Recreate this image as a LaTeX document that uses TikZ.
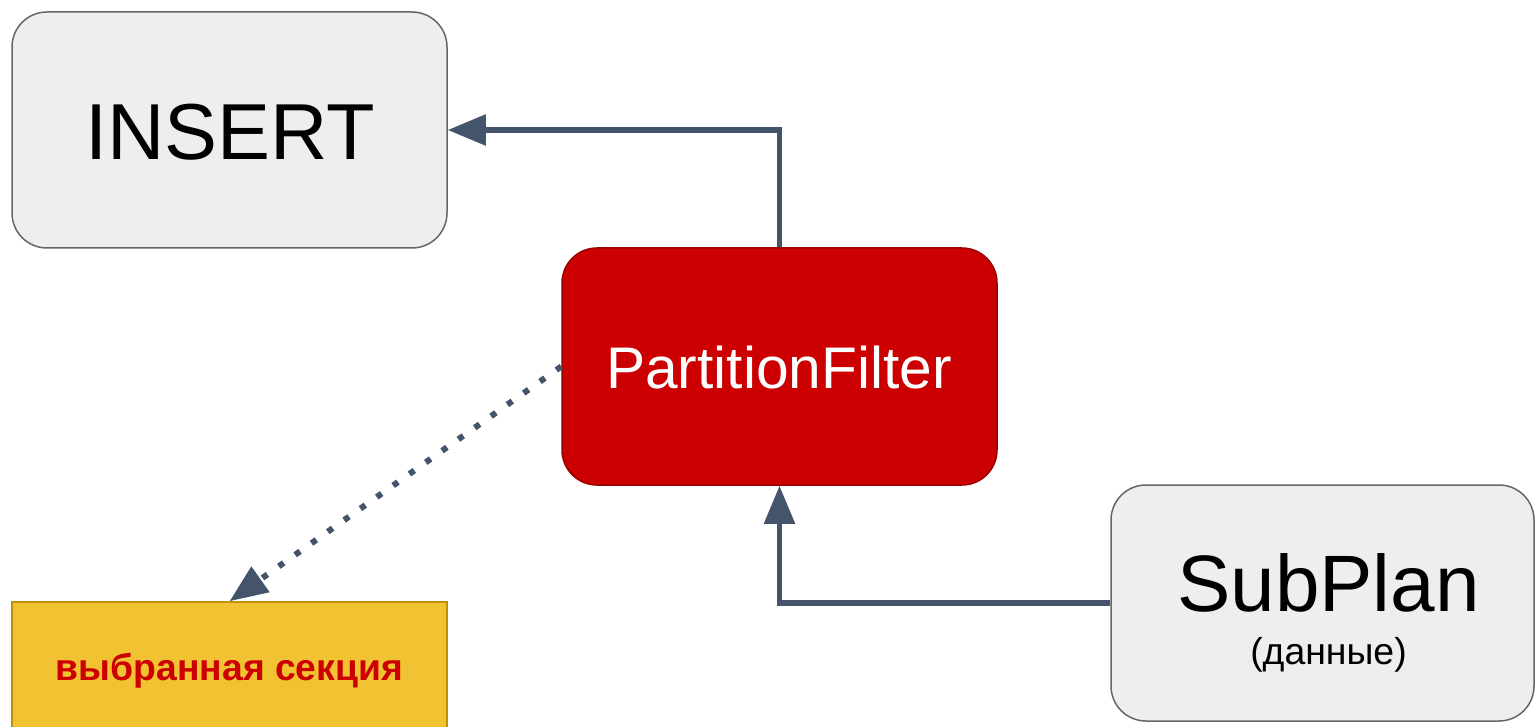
\documentclass[tikz,border=0pt]{standalone}
\usepackage{fontspec}
\setmainfont{Liberation Sans}
\usetikzlibrary{arrows.meta}
\definecolor{boxgray}{HTML}{EEEEEE}
\definecolor{bordergray}{HTML}{666666}
\definecolor{pfred}{HTML}{CC0000}
\definecolor{pfborder}{HTML}{990000}
\definecolor{secyellow}{HTML}{F1C232}
\definecolor{secborder}{HTML}{BF9000}
\definecolor{slate}{HTML}{44546A}
\tikzset{
  graybox/.style={draw=bordergray, line width=1.5pt, fill=boxgray, rounded corners=35pt, minimum width=435pt, minimum height=236pt, inner sep=0pt},
  redbox/.style={draw=pfborder, line width=1.5pt, fill=pfred, rounded corners=35pt, minimum width=435pt, minimum height=237pt, inner sep=0pt},
  yellowbox/.style={draw=secborder, line width=1.5pt, fill=secyellow, minimum width=435pt, minimum height=236pt, inner sep=0pt},
  conn/.style={draw=slate, line width=5.5pt, -{Triangle[length=38pt,width=30pt]}},
  dotconn/.style={draw=slate, line width=6pt, dash pattern=on 6pt off 14pt, -{Triangle[length=38pt,width=30pt]}},
  lbl/.style={anchor=base, inner sep=0pt}
}
\begin{document}
\begin{tikzpicture}[x=1pt,y=-1pt]
\useasboundingbox (0,0) rectangle (1537,727);
\clip (0,0) rectangle (1537,727);
\node[graybox] (ins) at (229.5,130) {};
\node[redbox] (pf) at (779.5,366.5) {};
\node[graybox, minimum width=423pt] (sp) at (1322.5,603) {};
\node[yellowbox] (sec) at (229.5,720) {};
\node[lbl, font=\fontsize{79.4}{80}\selectfont] (inst) at (230,160) {INSERT};
\node[lbl, white, font=\fontsize{58.7}{60}\selectfont] (pft) at (779,388) {PartitionFilter};
\node[lbl, font=\fontsize{80}{82}\selectfont] (spt) at (1328.5,611) {SubPlan};
\node[lbl, font=\fontsize{37.4}{38}\selectfont] (spd) at (1328.5,664) {(данные)};
\node[lbl, pfred, font=\bfseries\fontsize{37.3}{38}\selectfont] (sect) at (229.5,680) {выбранная секция};
\draw[conn] (pf.north) |- (ins.east);
\draw[conn] (sp.west) -| (pf.south);
\draw[dotconn] (pf.west) -- (sec.north);
\end{tikzpicture}
\end{document}
